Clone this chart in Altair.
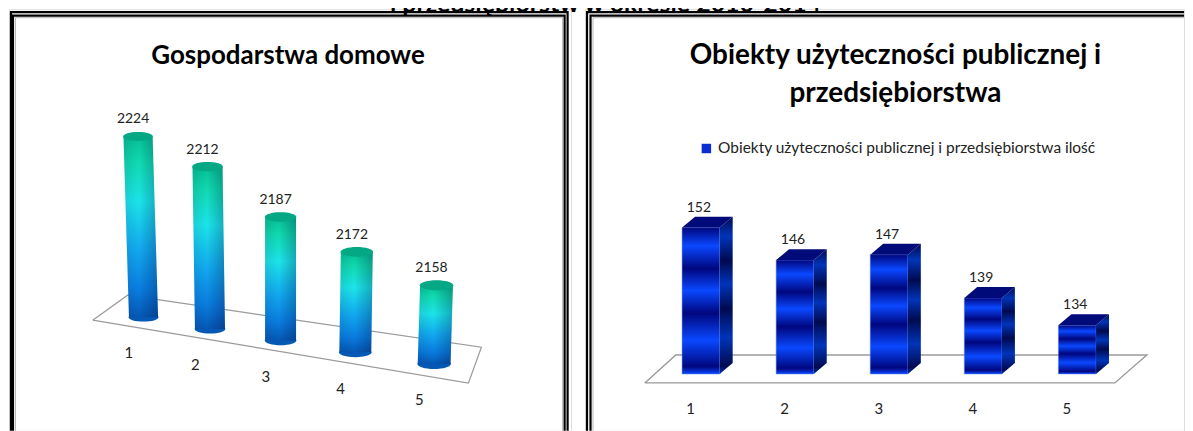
import altair as alt
import pandas as pd

categories = [1, 2, 3, 4, 5]
household_values = [2224, 2212, 2187, 2172, 2158]
business_values = [152, 146, 147, 139, 134]
left_title = "Gospodarstwa domowe"
right_title = ["Obiekty użyteczności publicznej i", "przedsiębiorstwa"]
legend_label = "Obiekty użyteczności publicznej i przedsiębiorstwa ilość"
page_title = "i przedsiębiorstw w okresie 2010-2014"

FONT = "Lato"
LW, RW, H, GAP = 564, 601, 423, 12

# ---------- panel frames (decoration, panel pixels)
def rect(x0, x1, y0, color, sw):
    return alt.Chart().mark_rect(filled=False, stroke=color, strokeWidth=sw, clip=True).encode(
        x=alt.value(x0), x2=alt.value(x1), y=alt.value(y0), y2=alt.value(H + 20))

left_frame = [rect(2, 560.5, 3, "black", 2.2), rect(4, 557.5, 6.5, "black", 2.2), rect(6.5, 555.5, 8.5, "#b8b8b8", 1)]
right_frame = [rect(2, 640, 3, "black", 2.2), rect(5.5, 640, 6.5, "black", 2.2), rect(8, 640, 8.5, "#b8b8b8", 1)]

# ---------- left panel: tilted floor and cylinders
L_BASE = 2107      # value at which the cylinders stand
L_TILT = 7.58      # the floor falls this many value units per category
L_LEAN = 0.000318  # cylinders lean away from the middle with height

def lu(c):
    d = c - 3
    return 0.985 * d + 0.028 * d * d

def lw(c, v):
    return v - L_TILT * (c - 1)

rows, ell, lab = [], [], []
for c, v in zip(categories, household_values):
    d = c - 3
    hw = 0.21 * (1 + 0.03 * d)
    top = lu(c) + L_LEAN * d * (v - L_BASE)
    for u, w in ((lu(c), lw(c, L_BASE)), (top, lw(c, v))):
        rows.append(dict(cat=c, value=v, a=u - hw, b=u + hw, w=w))
    ell.append(dict(cat=c, value=v, u=top, w=lw(c, v), ub=lu(c), wb=lw(c, L_BASE),
                    s=(2 * hw * 74 + 0.6) ** 2, label=str(v)))
    lab.append(dict(cat=str(c), u=lu(c) - 0.2, w=lw(c, L_BASE) - 23.5))
l_rows, l_ell, l_lab = pd.DataFrame(rows), pd.DataFrame(ell), pd.DataFrame(lab)

floor_l = pd.DataFrame(dict(u=[-2.547, -2.074, 2.723, 2.547, -2.547],
                            w=[2105.06, 2121.2, 2087.6, 2064.4, 2105.06],
                            o=[0, 1, 2, 3, 4]))

lx = alt.Scale(domain=[-3.682, 3.939], nice=False, zero=False)
ly = alt.Scale(domain=[2033.45, 2306.35], nice=False, zero=False)
X = lambda f, s: alt.X(f, type="quantitative", scale=s, axis=None)
Y = lambda f, s: alt.Y(f, type="quantitative", scale=s, axis=None)

cyl_fill = alt.Gradient(gradient="linear", x1=0, x2=0, y1=0, y2=1, stops=[
    alt.GradientStop(offset=0, color="#06c096"),
    alt.GradientStop(offset=0.14, color="#10dab0"),
    alt.GradientStop(offset=0.36, color="#1ce4ea"),
    alt.GradientStop(offset=0.62, color="#12aaf0"),
    alt.GradientStop(offset=0.85, color="#0a7ce0"),
    alt.GradientStop(offset=1, color="#0558b4")])
cyl_shade = alt.Gradient(gradient="linear", x1=0, x2=1, y1=0, y2=0, stops=[
    alt.GradientStop(offset=0, color="rgba(0,0,40,0.10)"),
    alt.GradientStop(offset=0.45, color="rgba(0,0,40,0)"),
    alt.GradientStop(offset=1, color="rgba(0,0,40,0.25)")])
ELLIPSE = "M-1,0A1,0.3 0 1,0 1,0A1,0.3 0 1,0 -1,0Z"

floor_l_ch = alt.Chart(floor_l).mark_line(color="#9a9a9a", strokeWidth=1.2).encode(
    x=X("u", lx), y=Y("w", ly), order="o:Q")
base_ell = alt.Chart(l_ell).mark_point(shape=ELLIPSE, filled=True, opacity=1, color="#0558b4").encode(
    x=X("ub", lx), y=Y("wb", ly), size=alt.Size("s:Q", scale=None, legend=None))
body = alt.Chart(l_rows).mark_area(orient="horizontal", color=cyl_fill).encode(
    x=X("a", lx), x2="b", y=Y("w", ly), detail="cat:N")
shade = alt.Chart(l_rows).mark_area(orient="horizontal", color=cyl_shade).encode(
    x=X("a", lx), x2="b", y=Y("w", ly), detail="cat:N")
top_ell = alt.Chart(l_ell).mark_point(shape=ELLIPSE, filled=True, opacity=1, color="#04a884").encode(
    x=X("u", lx), y=Y("w", ly), size=alt.Size("s:Q", scale=None, legend=None))
l_vals = alt.Chart(l_ell).mark_text(font=FONT, fontSize=14, color="#222", dx=-5, dy=-17).encode(
    x=X("u", lx), y=Y("w", ly), text="label:N")
l_cats = alt.Chart(l_lab).mark_text(font=FONT, fontSize=15, color="#222").encode(
    x=X("u", lx), y=Y("w", ly), text="cat:N")

left = alt.layer(*left_frame, floor_l_ch, base_ell, body, shade, top_ell, l_vals, l_cats).properties(
    width=LW, height=H,
    title=alt.TitleParams(left_title, font=FONT, fontSize=26, fontWeight="bold", color="black",
                          anchor="middle", offset=-60, dx=-2))

# ---------- right panel: 3-D columns
R_BASE = 125
BAR_HW = 0.2
DX, DW = 0.1376, 2.02   # depth of the box, in category and value units

def stripes(bright, dark):
    pos = [0, .125, .28, .43, .585, .77, .95, 1]
    col = [dark, bright, dark, bright, dark, bright, dark, bright]
    return alt.Gradient(gradient="linear", x1=0, x2=0, y1=0, y2=1,
                        stops=[alt.GradientStop(offset=p, color=k) for p, k in zip(pos, col)])

front, side, topf = [], [], []
for c, v in zip(categories, business_values):
    front.append(dict(cat=c, a=c - BAR_HW, b=c + BAR_HW, v=v, base=R_BASE, label=str(v), lab=str(c),
                      lx=c - 0.11, ly=R_BASE - 6.43))
    for t in (0, 1):
        side.append(dict(cat=c, x=c + BAR_HW + t * DX, top=v + t * DW, bot=R_BASE + t * DW))
        topf.append(dict(cat=c, y=v + t * DW, a=c - BAR_HW + t * DX, b=c + BAR_HW + t * DX))
r_front, r_side, r_top = pd.DataFrame(front), pd.DataFrame(side), pd.DataFrame(topf)

floor_r = pd.DataFrame(dict(u=[0.404, 0.733, 5.74, 5.40, 0.404],
                            w=[123.35, 128.5, 128.5, 123.35, 123.35],
                            o=[0, 1, 2, 3, 4]))
rx = alt.Scale(domain=[-0.2315, 6.135], nice=False, zero=False)
ry = alt.Scale(domain=[114.52, 192.28], nice=False, zero=False)

floor_r_ch = alt.Chart(floor_r).mark_line(color="#9a9a9a", strokeWidth=1.4).encode(
    x=X("u", rx), y=Y("w", ry), order="o:Q")
r_bars = alt.Chart(r_front).mark_rect(color=stripes("#0a48ff", "#00067e"), stroke="#5a7cf0", strokeWidth=0.5).encode(
    x=X("a", rx), x2="b", y=Y("v", ry), y2="base")
r_sides = alt.Chart(r_side).mark_area(color=stripes("#0034b8", "#000a50")).encode(
    x=X("x", rx), y=Y("top", ry), y2="bot", detail="cat:N")
r_tops = alt.Chart(r_top).mark_area(orient="horizontal", color="#000a78").encode(
    x=X("a", rx), x2="b", y=Y("y", ry), detail="cat:N")
r_vals = alt.Chart(r_front).mark_text(font=FONT, fontSize=14, color="#222", dx=-2, dy=-20).encode(
    x=alt.X("c:Q", scale=rx, axis=None), y=Y("v", ry), text="label:N").transform_calculate(c="(datum.a+datum.b)/2")
r_cats = alt.Chart(r_front).mark_text(font=FONT, fontSize=15, color="#222").encode(
    x=X("lx", rx), y=Y("ly", ry), text="lab:N")
r_key = alt.Chart(pd.DataFrame(dict(s=[legend_label]))).mark_point(opacity=0, filled=True).encode(
    color=alt.Color("s:N", scale=alt.Scale(range=["#0a2cd0"]), legend=alt.Legend(
        title=None, orient="none", legendX=692, legendY=132, symbolType="square", symbolSize=90,
        symbolOpacity=1, labelFont=FONT, labelFontSize=15.5, labelColor="#222", labelLimit=500, columnPadding=0)))

right = alt.layer(*right_frame, floor_r_ch, r_bars, r_sides, r_tops, r_vals, r_cats, r_key).resolve_scale(
    x="shared", y="shared").properties(
    width=RW, height=H,
    title=alt.TitleParams(right_title, font=FONT, fontSize=28, fontWeight="bold", color="black",
                          anchor="middle", offset=-99, lineHeight=38, dx=11))

chart = alt.hconcat(left, right, spacing=GAP).properties(
    padding=dict(left=0, top=-17.5, right=0, bottom=0),
    title=alt.TitleParams(page_title, font=FONT, fontSize=25, fontWeight="bold",
                          color="black", anchor="middle", offset=-8, dx=9),
).configure_view(stroke=None).configure(background="white")

chart.save("out.html", embed_options={"renderer": "svg", "actions": False})
